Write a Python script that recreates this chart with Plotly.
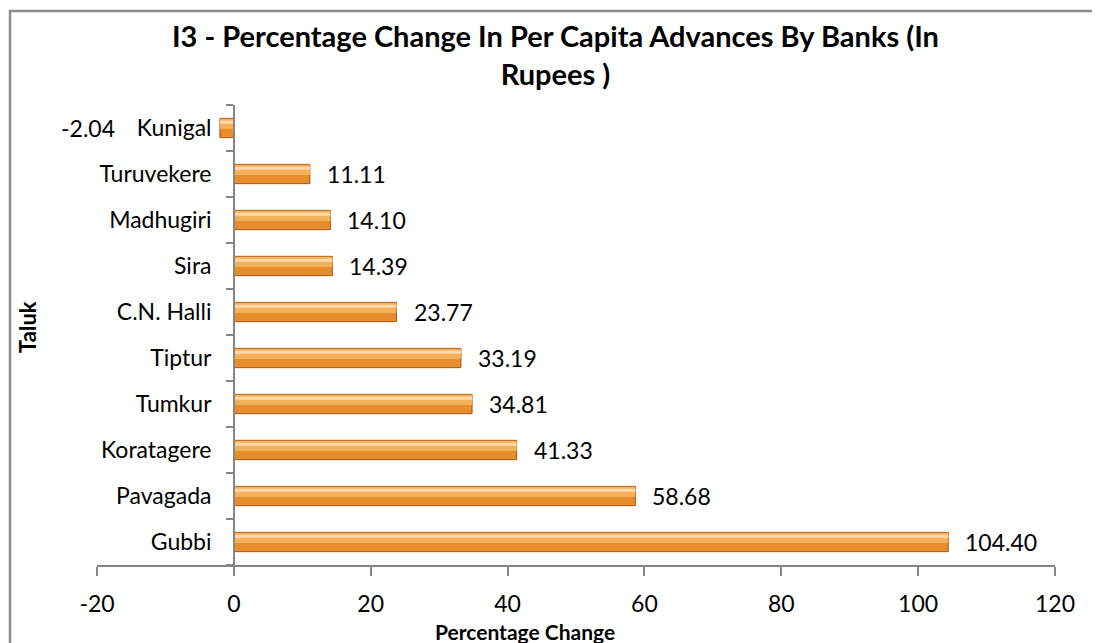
import plotly.graph_objects as go

taluks = ["Gubbi", "Pavagada", "Koratagere", "Tumkur", "Tiptur",
          "C.N. Halli", "Sira", "Madhugiri", "Turuvekere", "Kunigal"]
pct_change = [104.40, 58.68, 41.33, 34.81, 33.19, 23.77, 14.39, 14.10, 11.11, -2.04]
x_ticks = [-20, 0, 20, 40, 60, 80, 100, 120]

title_text = "I3 - Percentage Change In Per Capita Advances By Banks (In<br>Rupees )"
x_title = "Percentage Change"
y_title = "Taluk"

FONT = "Lato, 'Open Sans', sans-serif"
AXIS_GRAY = "#868686"

# page body has an 8px margin; plot area in figure px
L, R, T, B = 89, 53, 97, 86
W, H = 1100, 643
PW, PH = W - L - R, H - T - B


def px_x(x):
    return (x - L) / PW


def px_y(y):
    return (H - B - y) / PH


fig = go.Figure()
fig.add_trace(go.Bar(
    y=taluks, x=pct_change, orientation="h", width=0.42,
    marker=dict(color="#E68E2E", line=dict(color="#A85412", width=1)),
    hoverinfo="skip", showlegend=False,
))
fig.add_trace(go.Bar(
    y=taluks, x=pct_change, orientation="h", width=0.22, offset=-0.02,
    marker=dict(color="#F5B05A", line=dict(width=0)),
    hoverinfo="skip", showlegend=False,
))
fig.add_trace(go.Bar(
    y=taluks, x=pct_change, orientation="h", width=0.07, offset=0.09,
    marker=dict(color="#FCD9A6", line=dict(width=0)),
    hoverinfo="skip", showlegend=False,
))

LBL = dict(size=23, color="black", family=FONT)
annotations = []
for t, v in zip(taluks, pct_change):
    if v >= 0:
        annotations.append(dict(x=v, y=t, xref="x", yref="y", text=f"{v:.2f}",
                                showarrow=False, xanchor="left", xshift=15, font=LBL))
    else:
        annotations.append(dict(x=v, y=t, xref="x", yref="y", text=f"{v:.2f}",
                                showarrow=False, xanchor="right", xshift=-103, font=LBL))

annotations.append(dict(text=f"<b>{title_text}</b>", x=px_x(547), y=px_y(47),
                        xref="paper", yref="paper", showarrow=False,
                        xanchor="center", yanchor="middle",
                        font=dict(size=29, color="black", family=FONT)))
annotations.append(dict(text=f"<b>{x_title}</b>", x=px_x(517), y=px_y(623),
                        xref="paper", yref="paper", showarrow=False,
                        xanchor="center", yanchor="middle",
                        font=dict(size=21, color="black", family=FONT)))
annotations.append(dict(text=f"<b>{y_title}</b>", x=px_x(19), y=px_y(319),
                        xref="paper", yref="paper", showarrow=False, textangle=-90,
                        xanchor="center", yanchor="middle",
                        font=dict(size=22, color="black", family=FONT)))

fig.update_layout(
    width=W, height=H,
    paper_bgcolor="white", plot_bgcolor="white",
    margin=dict(l=L, r=R, t=T, b=B),
    barmode="overlay",
    font=dict(family=FONT, color="black"),
    xaxis=dict(range=[-20, 120], tickvals=x_ticks, ticktext=[str(v) for v in x_ticks],
               showgrid=False, zeroline=False, showline=True, linecolor=AXIS_GRAY, linewidth=1.5,
               ticks="outside", ticklen=9, tickcolor=AXIS_GRAY, tickwidth=1.5,
               tickfont=LBL, ticklabelstandoff=9),
    yaxis=dict(type="category", categoryorder="array", categoryarray=taluks,
               anchor="free", position=20 / 140,
               showgrid=False, zeroline=False, showline=True, linecolor=AXIS_GRAY, linewidth=1.5,
               ticks="outside", ticklen=7, tickcolor=AXIS_GRAY, tickwidth=1.5, tickson="boundaries",
               tickfont=LBL, ticklabelstandoff=17),
    annotations=annotations,
    shapes=[dict(type="rect", xref="paper", yref="paper",
                 x0=px_x(2), x1=px_x(1130), y0=px_y(670), y1=px_y(3),
                 line=dict(color="#8C8C8C", width=2.5), fillcolor="rgba(0,0,0,0)", layer="below")],
)

fig.write_html("out.html")
